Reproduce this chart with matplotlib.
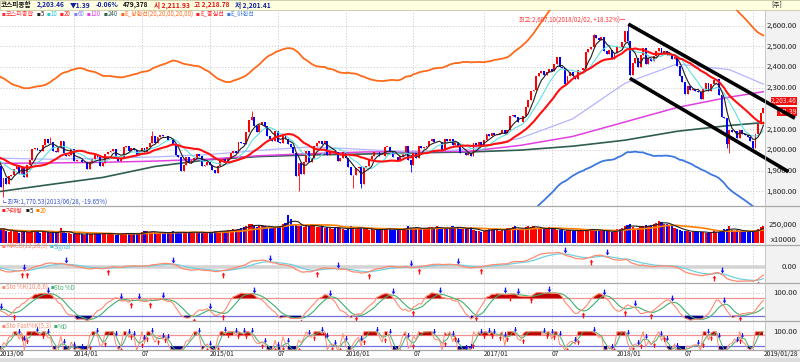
import numpy as np
import pandas as pd
import matplotlib
matplotlib.use('Agg')
import matplotlib.pyplot as plt
from matplotlib.path import Path
from matplotlib.patches import Rectangle
from matplotlib.transforms import offset_copy, blended_transform_factory

plt.rcParams['font.family'] = ['Liberation Sans Narrow', 'Noto Sans CJK KR', 'DejaVu Sans']
plt.rcParams['axes.unicode_minus'] = False

# weekly closes (KOSPI), a few weeks before the window warm up the MA20 / MACD
pre_closes = [1957, 1950, 1981, 2018, 2026, 2006, 1986, 1946, 2004, 1927,
              1924, 1943, 1944, 1963, 1956, 1979, 1970, 2001, 1923]
closes_2013 = [1921, 1822, 1863, 1833, 1876, 1880, 1910, 1920, 1884, 1917,
               1870, 1926, 1951, 2002, 2007, 1998, 1993, 2024, 2052, 2032,
               2040, 1996, 1990, 2007, 2044, 1986, 1970, 1974, 2002]
closes_2014 = [1946, 1951, 1951, 1940, 1941, 1907, 1940, 1956, 1980, 1964,
               1920, 1939, 1980, 1991, 1997, 2005, 1961, 1948, 1959, 2014,
               2017, 1995, 2008, 2000, 1976, 1990, 2009, 1988, 2013, 2033,
               2066, 2032, 2060, 2074, 2068, 2066, 2046, 2047, 2030, 1976,
               1968, 1900, 1925, 1964, 1937, 1950, 1963, 1980, 1970, 1920,
               1929, 1940]
closes_2015 = [1926, 1904, 1888, 1920, 1952, 1954, 1945, 1961, 1985, 1997,
               1986, 2037, 2032, 2029, 2087, 2143, 2159, 2116, 2088, 2122,
               2134, 2114, 2065, 2052, 2041, 2090, 2040, 2031, 2073, 2052,
               2030, 2015, 1983, 1876, 1937, 1886, 1941, 1995, 1942, 1962,
               2019, 2034, 2041, 2029, 2041, 1973, 1993, 1995, 1991, 1948,
               1962, 1990]
closes_2016 = [1961, 1918, 1878, 1879, 1912, 1917, 1835, 1916, 1920, 1957,
               1971, 1992, 1990, 1970, 1972, 2015, 2015, 1994, 1967, 1966,
               1947, 1969, 1985, 2017, 1953, 1925, 1987, 1963, 2017, 2010,
               2016, 2017, 2044, 2055, 2037, 2038, 2037, 1999, 2053, 2043,
               2053, 2023, 2040, 2020, 1983, 1984, 1974, 1983, 1970, 2031,
               2017, 2036, 2026]
closes_2017 = [2049, 2076, 2065, 2083, 2073, 2075, 2080, 2094, 2078, 2098,
               2164, 2169, 2160, 2134, 2134, 2165, 2205, 2241, 2286, 2288,
               2355, 2371, 2381, 2361, 2378, 2392, 2379, 2414, 2450, 2400,
               2395, 2319, 2358, 2378, 2357, 2343, 2386, 2388, 2394, 2473,
               2489, 2496, 2557, 2542, 2533, 2544, 2476, 2464, 2482, 2440,
               2467]
closes_2018 = [2497, 2496, 2520, 2575, 2525, 2363, 2421, 2445, 2402, 2459,
               2494, 2416, 2445, 2429, 2455, 2476, 2492, 2461, 2477, 2460,
               2460, 2438, 2451, 2404, 2357, 2326, 2272, 2310, 2289, 2294,
               2287, 2282, 2247, 2294, 2322, 2287, 2318, 2339, 2343, 2267,
               2161, 2156, 2027, 2096, 2086, 2092, 2057, 2096, 2075, 2070,
               2061, 2041]
closes_2019 = [2010, 2075, 2124, 2177, 2203.46]

# notable weekly extremes (week index -> value)
week_highs = {20: 2063, 59: 2093, 97: 2189, 228: 2561, 241: 2607.10}
week_lows = {2: 1770.53, 115: 1800, 136: 1817, 139: 1817, 158: 1892,
             279: 2008, 280: 1985.95, 289: 1993}

# volume, x10000 shares, in thousands
vol_2013 = [180, 210, 195, 160, 150, 170, 165, 175, 140, 150,
            160, 145, 150, 185, 170, 160, 140, 155, 150, 145,
            135, 150, 140, 150, 205, 150, 140, 130, 120]
vol_2014 = [125, 120, 130, 120, 110, 130, 120, 125, 130, 120,
            125, 130, 135, 130, 125, 120, 115, 125, 130, 140,
            135, 120, 125, 120, 125, 135, 150, 160, 165, 150,
            155, 145, 140, 150, 145, 140, 135, 150, 160, 145,
            135, 140, 150, 145, 140, 155, 150, 145, 140, 150,
            135, 140]
vol_2015 = [150, 155, 160, 165, 170, 160, 165, 175, 180, 190,
            185, 200, 210, 215, 240, 270, 260, 230, 220, 245,
            250, 230, 210, 220, 215, 225, 240, 230, 260, 280,
            390, 330, 250, 260, 240, 230, 220, 250, 235, 260,
            240, 220, 215, 230, 205, 225, 210, 200, 220, 215,
            205, 190]
vol_2016 = [185, 200, 230, 210, 190, 205, 215, 200, 190, 185,
            195, 180, 175, 190, 185, 200, 205, 190, 180, 175,
            185, 200, 190, 210, 230, 210, 200, 215, 205, 195,
            200, 210, 220, 215, 190, 230, 215, 205, 190, 200,
            210, 230, 225, 215, 200, 190, 195, 210, 215, 180,
            170, 165, 150]
vol_2017 = [170, 185, 200, 190, 180, 175, 170, 185, 195, 205,
            210, 220, 230, 190, 180, 200, 215, 240, 225, 230,
            210, 200, 195, 190, 205, 215, 200, 190, 180, 175,
            185, 170, 180, 175, 165, 170, 160, 175, 180, 175,
            190, 200, 185, 170, 160, 175, 165, 170, 160, 150,
            145]
vol_2018 = [190, 200, 210, 230, 250, 270, 220, 200, 210, 230,
            240, 250, 230, 245, 260, 280, 300, 290, 270, 260,
            240, 230, 210, 200, 180, 170, 165, 160, 155, 150,
            160, 155, 150, 145, 140, 135, 150, 160, 155, 150,
            160, 200, 190, 230, 180, 170, 175, 165, 170, 160,
            150, 145]
vol_2019 = [170, 185, 200, 215, 230]

# long moving averages (week index -> value)
ma_long_idx = [0, 20, 40, 60, 80, 100, 120, 140, 160, 180, 200, 220, 240, 260, 280, 293]
ma60_vals = [1960, 1955, 1960, 1966, 1977, 1998, 2015, 2002, 1990, 2003,
             2057, 2150, 2322, 2415, 2388, 2318]
ma120_vals = [1935, 1937, 1940, 1946, 1955, 1972, 1982, 1990, 1992, 1993,
              2022, 2065, 2135, 2205, 2255, 2281]
ma240_vals = [1798, 1833, 1867, 1920, 1952, 1968, 1976, 1980, 1986, 1990,
              1999, 2018, 2047, 2090, 2118, 2132]

# hand-drawn channel lines (week index, price)
channel_upper = [(241.3, 2608), (305.1, 2153)]
channel_lower = [(241.9, 2346), (302.6, 1895)]

# 2,200 is hidden under the current-price box in the original
price_ticks = [1800, 1900, 2000, 2100, 2300, 2400, 2500, 2600]

# ---------------------------------------------------------------------------
closes = np.array(pre_closes + closes_2013 + closes_2014 + closes_2015 + closes_2016
                  + closes_2017 + closes_2018 + closes_2019, dtype=float)
n_pre = len(pre_closes)
idx = np.arange(len(closes)) - n_pre
opens = np.r_[closes[0], closes[:-1]]
highs = np.maximum(opens, closes)
lows = np.minimum(opens, closes)
for k, v in week_highs.items():
    highs[k + n_pre] = v
for k, v in week_lows.items():
    lows[k + n_pre] = v

vis = idx >= 0
xv = idx[vis]
o, c, hi, lo = opens[vis], closes[vis], highs[vis], lows[vis]
up = c >= o

cs = pd.Series(closes)
ma5 = cs.rolling(5).mean().values
ma10 = cs.rolling(10).mean().values
ma20 = cs.rolling(20).mean().values

volume = np.array(vol_2013 + vol_2014 + vol_2015 + vol_2016 + vol_2017 + vol_2018 + vol_2019, dtype=float)
vs = pd.Series(volume)
vma5 = vs.rolling(5, min_periods=1).mean().values
vma20 = vs.rolling(20, min_periods=1).mean().values

ema12 = cs.ewm(span=12, adjust=False).mean()
ema26 = cs.ewm(span=26, adjust=False).mean()
macd = (ema12 - ema26).values
signal = (ema12 - ema26).ewm(span=9, adjust=False).mean().values

hs, ls = pd.Series(highs), pd.Series(lows)
def fast_k(n):
    hh = hs.rolling(n, min_periods=1).max()
    ll = ls.rolling(n, min_periods=1).min()
    return ((cs - ll) / (hh - ll).replace(0, np.nan) * 100).fillna(50)
slow_k = fast_k(10).rolling(6, min_periods=1).mean()
slow_d = slow_k.rolling(6, min_periods=1).mean()
fk = fast_k(5)
fd = fk.rolling(3, min_periods=1).mean()
slow_k, slow_d, fk, fd = slow_k.values, slow_d.values, fk.values, fd.values

dates = pd.date_range('2013-06-14', '2019-02-01', freq='W-FRI')
dates = dates[dates != pd.Timestamp('2017-10-06')]
grid_idx, grid_lab = [], []
for k in range(10, len(dates)):
    if dates[k].month != dates[k - 1].month and dates[k].month in (1, 7):
        grid_idx.append(k)
        grid_lab.append(f'{dates[k].year}/01' if dates[k].month == 1 else '07')

# ---------------------------------------------------------------------------
W, H = 800, 362
XMIN, XMAX = 0.66, 293.65
fig = plt.figure(figsize=(W / 100, H / 100), dpi=100)
fig.patch.set_facecolor('white')
renderer = fig.canvas.get_renderer()

def panel(y0, y1):
    ax = fig.add_axes([0, 1 - y1 / H, 765 / W, (y1 - y0) / H])
    ax.set_xlim(XMIN, XMAX)
    for s in ax.spines.values():
        s.set_visible(False)
    ax.set_xticks([])
    ax.set_yticks([])
    ax.patch.set_alpha(0)
    for g in grid_idx:
        ax.axvline(g, color='#C8C8C8', lw=0.6, ls=(0, (1.5, 2)), zorder=0)
    return ax

def right_label(ax, val, s, **kw):
    tr = blended_transform_factory(fig.transFigure, ax.transData)
    ax.text(797 / W, val, s, transform=tr, ha='right', va='center', fontsize=5.6,
            color='#202020', clip_on=False, **kw)

def text_row(x, y, items, fs=4.4, square=True, gap=2.5, weight='normal'):
    for s, col in items:
        if square:
            t = fig.text(x / W, 1 - y / H, '■', fontsize=fs * 0.62, color=col,
                         va='center', ha='left')
            x += t.get_window_extent(renderer).width + 0.3
        t = fig.text(x / W, 1 - y / H, s, fontsize=fs, color=col, va='center',
                     ha='left', fontweight=weight)
        x += t.get_window_extent(renderer).width + gap

GRID = dict(color='#C8C8C8', lw=0.6, ls=(0, (1.5, 2)), zorder=0)

# right strip and header
fig.patches.append(Rectangle((765 / W, 0), 35 / W, 1, transform=fig.transFigure,
                             facecolor='#F2F2F2', edgecolor='none', zorder=-5))
fig.patches.append(Rectangle((0, 1 - 9.5 / H), 1, 9.5 / H, transform=fig.transFigure,
                             facecolor='#FFFFE1', edgecolor='#C8C8A0', lw=0.6, zorder=-4))
fig.patches.append(Rectangle((0, 0), 1, 4 / H, transform=fig.transFigure,
                             facecolor='#DCDCDC', edgecolor='none', zorder=-4))

# ---------------- price panel ----------------
ax = panel(10, 206)
ax.set_ylim(1729, 2676)
for p in price_ticks + [2200]:
    ax.axhline(p, **GRID)
for p in price_ticks:
    right_label(ax, p, f'{p:,.2f}')
ax.plot(idx, ma20 * 1.2, color='#FF6A1A', lw=1.3, zorder=2)
ax.plot(idx, ma20 * 0.8, color='#3C78E0', lw=1.3, zorder=2)
ax.plot(ma_long_idx, ma240_vals, color='#2E5E50', lw=1.2, zorder=2)
ax.plot(ma_long_idx, ma120_vals, color='#E040E0', lw=1.1, zorder=2)
ax.plot(ma_long_idx, ma60_vals, color='#B4B4FF', lw=0.9, zorder=2)
cols = np.where(up, '#FF0000', '#0000FF')
ax.vlines(xv, lo, hi, colors=cols, lw=0.6, zorder=3)
ax.bar(xv, np.maximum(np.abs(c - o), 2), bottom=np.minimum(o, c), width=0.72,
       color=cols, lw=0, zorder=3)
ax.plot(idx, ma10, color='#5FE0E0', lw=0.8, zorder=4)
ax.plot(idx, ma5, color='#202020', lw=0.8, zorder=4)
ax.plot(idx, ma20, color='#FF1010', lw=1.5, zorder=4)
for seg in (channel_upper, channel_lower):
    ax.plot([seg[0][0], seg[1][0]], [seg[0][1], seg[1][1]], color='black', lw=2.6,
            solid_capstyle='butt', clip_on=False, zorder=6)
ax.text(240.2, 2632, '최고:2,607.10(2018/02/02, +18.32%)ㅡ', fontsize=4.4, color='#FF3030',
        ha='right', va='center')
ax.text(1.3, 1748, 'ㄴ최저:1,770.53(2013/06/28, -19.65%)', fontsize=4.4, color='#3050D0',
        ha='left', va='center')
tr = blended_transform_factory(fig.transFigure, ax.transData)
ax.text(797 / W, 2236, '2,203.46', transform=tr, ha='right', va='center', fontsize=4.8,
        color='#FFE0E0', clip_on=False,
        bbox=dict(facecolor='#F01010', edgecolor='none', pad=0.3))
ax.text(797 / W, 2186, '▼1.39', transform=tr, ha='right', va='center', fontsize=4.8,
        color='#FFE0E0', clip_on=False,
        bbox=dict(facecolor='#F01010', edgecolor='none', pad=0.3))
text_row(2, 14.5, [('코스피종합', '#FF3030'), ('5', '#202020'), ('10', '#30C8D8'),
                   ('20', '#FF2020'), ('60', '#8080FF'), ('120', '#E040E0'),
                   ('240', '#2E5E50'), ('E_상한선(20,20,00,20,00)', '#FF6A1A'),
                   ('E_중심선', '#FF2020'), ('E_하한선', '#3C78E0')])

# ---------------- volume panel ----------------
ax = panel(207, 245)
ax.set_ylim(-32.5, 504)
ax.axhline(250, **GRID)
ax.bar(xv, volume, width=0.85, color=cols, lw=0, zorder=2)
ax.plot(xv, vma20, color='#FF8000', lw=1.2, zorder=3)
ax.plot(xv, vma5, color='#202020', lw=0.8, zorder=3)
right_label(ax, 250, '250,000')
right_label(ax, 45, 'x10000')
text_row(2, 211, [('거래량', '#FF2020'), ('5', '#202020'), ('20', '#FF8000')])

UP = Path([(-0.22, -1), (0.22, -1), (0.22, 0.05), (0.65, 0.05), (0, 1), (-0.65, 0.05),
           (-0.22, 0.05), (-0.22, -1)])
DOWN = Path([(x, -y) for x, y in UP.vertices])

def signals(ax, a, b, size=4.2, gap=4):
    a, b = a[vis], b[vis]
    d = np.sign(a - b)
    cross = np.where(d[1:] != d[:-1])[0] + 1
    below = offset_copy(ax.transData, fig=fig, y=-gap, units='dots')
    above = offset_copy(ax.transData, fig=fig, y=gap, units='dots')
    for k in cross:
        if d[k] > 0:
            ax.plot(xv[k], min(a[k], b[k]), marker=UP, ms=size, color='#FF1010',
                    mec='none', transform=below, zorder=5)
        elif d[k] < 0:
            ax.plot(xv[k], max(a[k], b[k]), marker=DOWN, ms=size, color='#1010FF',
                    mec='none', transform=above, zorder=5)

# ---------------- MACD panel ----------------
ax = panel(245, 283)
m = max(np.abs(macd[vis]).max(), np.abs(signal[vis]).max())
ax.set_ylim(-1.02 * m, 1.48 * m)
ax.axhline(0, color='#D4D4D4', lw=2.6, zorder=0)
ax.plot(idx, signal, color='#70D0E0', lw=0.9, zorder=2)
ax.plot(idx, macd, color='#FF8A70', lw=0.9, zorder=2)
signals(ax, macd, signal)
right_label(ax, 0, '0.00')
text_row(2, 247, [('MACD(12,26,9)', '#FF8A70'), ('Signal', '#50C0D8')])

# ---------------- slow stochastic ----------------
ax = panel(283, 321)
ax.set_ylim(1.7, 132.8)
ax.axhline(100, **GRID)
ax.axhline(80, color='#F09090', lw=0.9, zorder=1)
ax.axhline(20, color='#7070E0', lw=0.9, zorder=1)
ax.fill_between(idx, 80, slow_k, where=slow_k >= 80, color='#C00000', lw=0, zorder=2)
ax.fill_between(idx, 20, slow_k, where=slow_k <= 20, color='#000080', lw=0, zorder=2)
ax.plot(idx, slow_d, color='#40B070', lw=0.8, zorder=3)
ax.plot(idx, slow_k, color='#FF8A70', lw=0.8, zorder=3)
signals(ax, slow_k, slow_d)
right_label(ax, 100, '100.00')
text_row(2, 288, [('Sto %K(10,6,6)', '#FF8A70'), ('Sto %D', '#40B070')])

# ---------------- fast stochastic ----------------
ax = panel(321, 350)
ax.set_ylim(-0.2, 158)
ax.axhline(100, **GRID)
ax.axhline(80, color='#F09090', lw=0.9, zorder=1)
ax.axhline(20, color='#7070E0', lw=0.9, zorder=1)
ax.fill_between(idx, 80, fk, where=fk >= 80, color='#C00000', lw=0, zorder=2)
ax.fill_between(idx, 20, fk, where=fk <= 20, color='#000080', lw=0, zorder=2)
ax.plot(idx, fd, color='#40B070', lw=0.7, zorder=3)
ax.plot(idx, fk, color='#FF8A70', lw=0.7, zorder=3)
signals(ax, fk, fd, size=3.6, gap=3)
right_label(ax, 100, '100.00')
text_row(2, 326.7, [('Sto Fast%K(5,3)', '#FF8A70'), ('%D', '#40B070')])

# x labels
xl = fig.add_axes([0, 1 - 358 / H, 765 / W, 8 / H])
xl.set_xlim(XMIN, XMAX)
xl.set_ylim(0, 1)
xl.axis('off')
xl.text(XMIN, 0.5, '2013/06', fontsize=4.8, va='center', ha='left', color='#202020')
for g, lab in zip(grid_idx, grid_lab):
    if g < len(dates) - 8:
        xl.text(g, 0.5, lab, fontsize=4.8, va='center', ha='left', color='#202020')
xl.text(len(dates) - 1, 0.5, '2019/01/28', fontsize=4.8, va='center', ha='left',
        color='#202020', clip_on=False)

# panel separators
for yy in (206, 245, 283, 321, 350):
    fig.add_artist(plt.Line2D([0, 1], [1 - yy / H] * 2, color='#A8A8A8', lw=0.9))
fig.add_artist(plt.Line2D([765 / W] * 2, [1 - 350 / H, 1 - 10 / H], color='#C0C0C0', lw=0.6))

# header
text_row(1, 4.8, [('코스피종합', '#101010'), ('2,203.46', '#1020A0'), ('▼1.39', '#1020A0'),
                  ('-0.06%', '#1020A0'), ('479,378', '#101010'), ('시 2,211.93', '#E01010'),
                  ('고 2,218.78', '#E01010'), ('저 2,201.41', '#1020A0')],
         fs=4.8, square=False, gap=5, weight='bold')
fig.text(782 / W, 1 - 4.8 / H, '[주]', fontsize=4.8, color='#202020', va='center', ha='right')

fig.savefig('out.png', dpi=100, facecolor='white')
